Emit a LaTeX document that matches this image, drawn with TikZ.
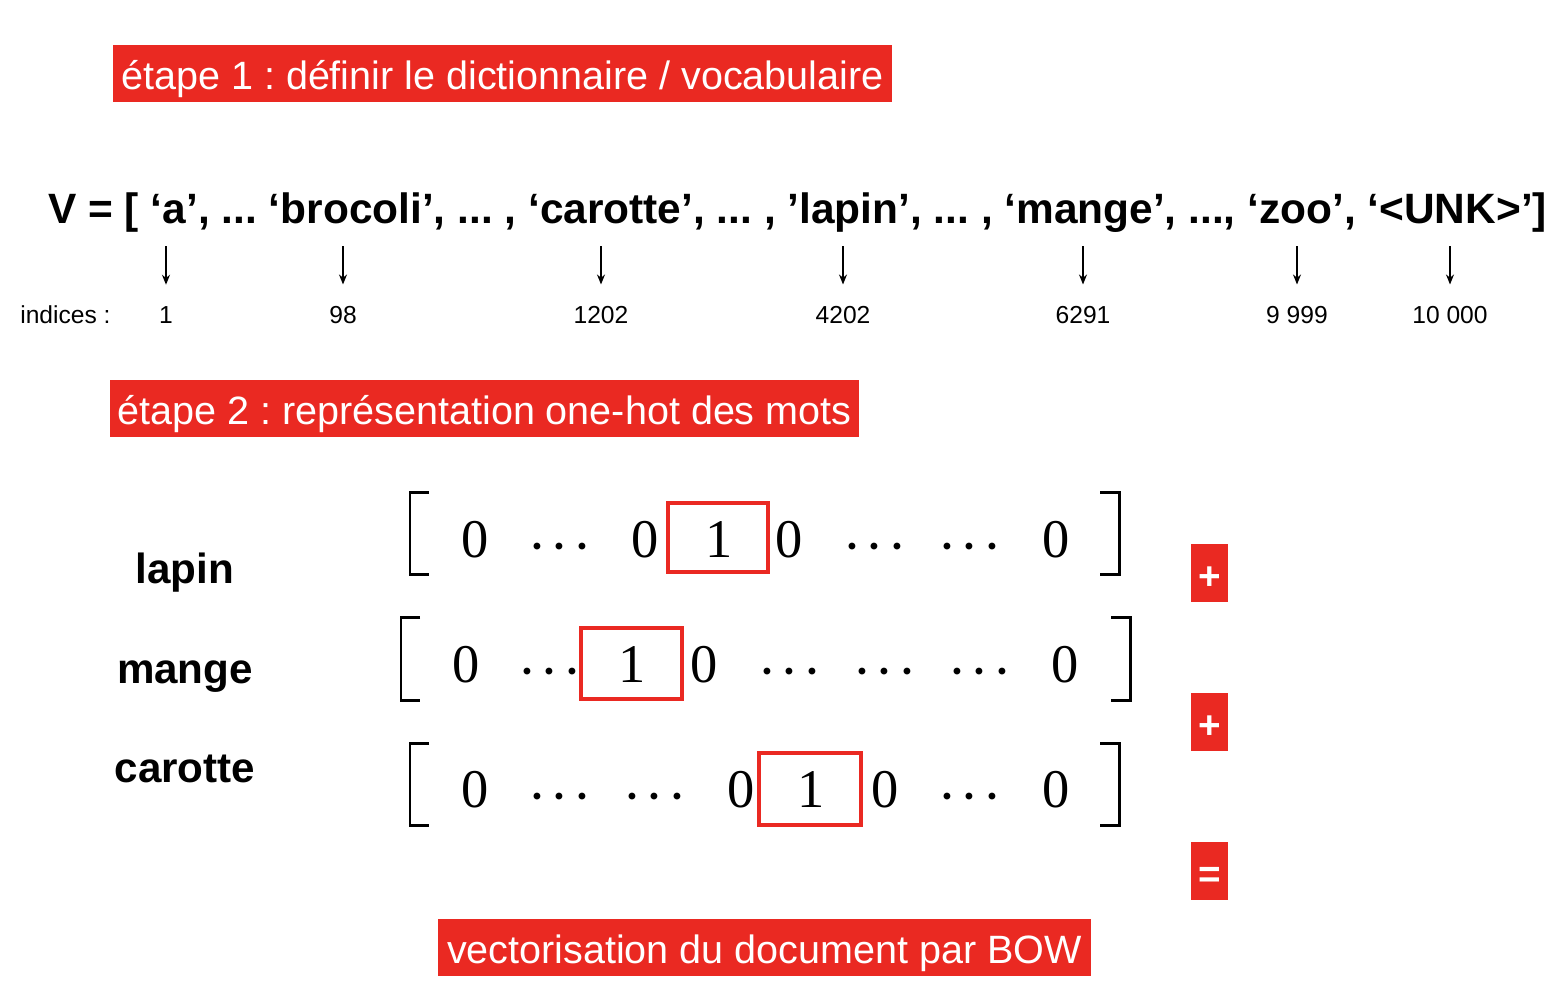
\documentclass[tikz,border=0pt]{standalone}
\usepackage{fontspec}
\setmainfont{Liberation Sans}
\newfontfamily\numfont{Liberation Serif}
\usetikzlibrary{positioning, calc, arrows.meta}
\definecolor{flag}{RGB}{234,41,34}
\frenchspacing
\tikzset{
  banner/.style={fill=flag,text=white,inner sep=0pt,minimum height=1.14cm,
    text height=0.74cm,text depth=0.12cm,font=\fontsize{22.5}{26}\selectfont},
  arr/.style={-{Stealth[length=2mm,width=1.6mm]},line width=0.75pt},
  idx/.style={font=\fontsize{14}{16}\selectfont,anchor=base,inner sep=0pt},
  word/.style={font=\fontsize{24}{28}\selectfont\bfseries,anchor=base,inner sep=0pt},
  entry/.style={font=\fontsize{31}{34}\selectfont\numfont\boldmath,anchor=base,inner sep=0pt},
  hot/.style={draw=flag,line width=2.8pt},
  brk/.style={line width=1.7pt},
  sign/.style={fill=flag,text=white,minimum width=0.74cm,minimum height=1.16cm,
    inner sep=0pt,text height=0.64cm,text depth=0pt,font=\fontsize{22}{24}\selectfont\bfseries},
}

\begin{document}
\begin{tikzpicture}[x=0.02cm,y=-0.02cm]
  \useasboundingbox (0,0) rectangle (1562,1002);
  \node[banner,minimum width=15.58cm] (step1) at (502.5,73.5)
    {étape 1 : définir le dictionnaire / vocabulaire};
  \node[banner,minimum width=14.98cm] (step2) at (484.5,408.5)
    {étape 2 : représentation one-hot des mots};
  \node[banner,minimum width=13.06cm] (bow) at (764.5,947.5)
    {vectorisation du document par BOW};

  \node[font=\fontsize{24.15}{28}\selectfont\bfseries,anchor=base west,inner sep=0pt] (vl) at (48,223)
    {V = [ ‘a’, ... ‘brocoli’, ... , ‘carotte’, ... , ’lapin’, ... , ‘mange’, ..., ‘zoo’, ‘<UNK>’]};
  \node[idx,anchor=base west] (ind) at (20,323) {indices :};
  \foreach \x/\n [count=\i] in {166/1,343/98,601/1202,843/4202,1083/6291,1297/9 999,1450/10 000} {
    \node[idx] (i\i) at (\x,323) {\n};
    \draw[arr] ($(vl.south -| i\i)+(0,14)$) -- ($(i\i.north)+(0,-21)$);
  }

  \node[word] (w1) at (185,583) {lapin};
  \node[word] (w2) at (185,683) {mange};
  \node[word] (w3) at (185,782) {carotte};

  \draw[brk] (429,492) -- (410,492) -- (410,574) -- (429,574);
  \draw[brk] (1100,492) -- (1119,492) -- (1119,574) -- (1100,574);
  \foreach \x/\t [count=\i] in {475/0,560/$\cdots$,645/0,719/1,789/0,875/$\cdots$,970/$\cdots$,1056/0}
    \node[entry] (a\i) at (\x,557) {\t};
  \draw[hot] (668,503) rectangle (768,572);

  \draw[brk] (420,617) -- (401,617) -- (401,700) -- (420,700);
  \draw[brk] (1111,617) -- (1130,617) -- (1130,700) -- (1111,700);
  \foreach \x/\t [count=\i] in {466/0,550/$\cdots$,632/1,704/0,790/$\cdots$,885/$\cdots$,980/$\cdots$,1065/0}
    \node[entry] (b\i) at (\x,682) {\t};
  \draw[hot] (581,628) rectangle (682,699);

  \draw[brk] (429,743) -- (410,743) -- (410,825) -- (429,825);
  \draw[brk] (1100,743) -- (1119,743) -- (1119,825) -- (1100,825);
  \foreach \x/\t [count=\i] in {475/0,560/$\cdots$,655/$\cdots$,741/0,811/1,885/0,970/$\cdots$,1056/0}
    \node[entry] (c\i) at (\x,807) {\t};
  \draw[hot] (759,753) rectangle (861,825);

  \node[sign] (p1) at (1209.5,573) {+};
  \node[sign] (p2) at (1209.5,722) {+};
  \node[sign] (eq) at (1209.5,871) {=};
\end{tikzpicture}
\end{document}
